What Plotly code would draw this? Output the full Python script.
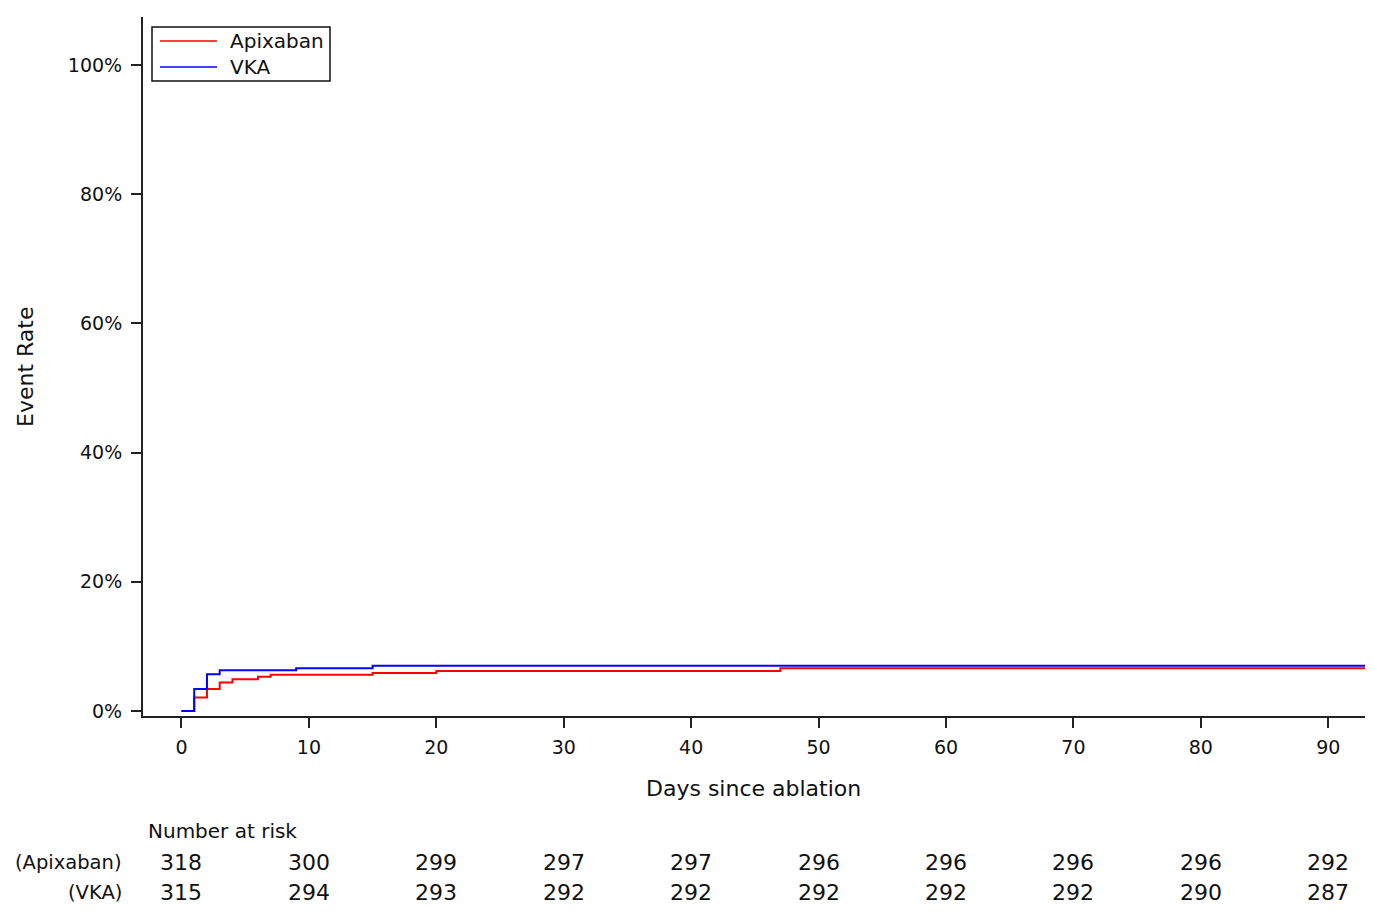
import plotly.graph_objects as go

# Kaplan-Meier style cumulative event rate (%)
apix_days = [0, 1, 2, 3, 4, 6, 7, 15, 20, 47, 93]
apix_rate = [0, 2.1, 3.4, 4.4, 4.9, 5.3, 5.6, 5.9, 6.2, 6.6, 6.6]
vka_days = [0, 1, 2, 3, 9, 15, 93]
vka_rate = [0, 3.4, 5.7, 6.3, 6.6, 7.0, 7.0]

risk_days = [0, 10, 20, 30, 40, 50, 60, 70, 80, 90]
risk_apix = [318, 300, 299, 297, 297, 296, 296, 296, 296, 292]
risk_vka = [315, 294, 293, 292, 292, 292, 292, 292, 290, 287]

y_ticks = [0, 20, 40, 60, 80, 100]
y_labels = ["0%", "20%", "40%", "60%", "80%", "100%"]
x_ticks = [0, 10, 20, 30, 40, 50, 60, 70, 80, 90]

series_names = ["Apixaban", "VKA"]
series_colors = ["#ff0000", "#0000ff"]

FONT = "DejaVu Sans"
TXT = "#111111"

fig = go.Figure()
fig.add_trace(go.Scatter(x=apix_days, y=apix_rate, mode="lines", line_shape="hv",
                         name=series_names[0], line=dict(color=series_colors[0], width=2)))
fig.add_trace(go.Scatter(x=vka_days, y=vka_rate, mode="lines", line_shape="hv",
                         name=series_names[1], line=dict(color=series_colors[1], width=2)))

L, R, T, B = 143, 8, 17, 198
plot_w = 1373 - L - R
plot_h = 914 - T - B

def py(pix):
    return (914 - B - pix) / plot_h

def px(pix):
    return (pix - L) / plot_w

ann = [
    dict(text="Number at risk", x=px(146), xref="paper", y=py(831), yref="paper",
         xanchor="left", yanchor="middle", showarrow=False,
         font=dict(size=20, color=TXT, family=FONT)),
    dict(text="Days since ablation", x=px(753.5), xref="paper", y=py(788), yref="paper",
         xanchor="center", yanchor="middle", showarrow=False,
         font=dict(size=22, color=TXT, family=FONT)),
    dict(text="Event Rate", x=px(25), xref="paper", y=py(367), yref="paper",
         xanchor="center", yanchor="middle", showarrow=False, textangle=-90,
         font=dict(size=22, color=TXT, family=FONT)),
]
for lbl, ypix in [("(Apixaban)", 862), ("(VKA)", 892)]:
    ann.append(dict(text=lbl, x=px(124), xref="paper", y=py(ypix), yref="paper",
                    xanchor="right", yanchor="middle", showarrow=False,
                    font=dict(size=19.5, color=TXT, family=FONT)))
for d, a, v in zip(risk_days, risk_apix, risk_vka):
    ann.append(dict(text=str(a), x=d, xref="x", y=py(862), yref="paper",
                    xanchor="center", yanchor="middle", showarrow=False,
                    font=dict(size=22, color=TXT, family=FONT)))
    ann.append(dict(text=str(v), x=d, xref="x", y=py(892), yref="paper",
                    xanchor="center", yanchor="middle", showarrow=False,
                    font=dict(size=22, color=TXT, family=FONT)))

# hand-built legend box (to match the compact reference legend)
shapes = [dict(type="rect", xref="paper", yref="paper", x0=px(152), x1=px(330),
               y0=py(81), y1=py(27), line=dict(color="#111111", width=1.5),
               fillcolor="white", layer="above")]
for i, (nm, col) in enumerate(zip(series_names, series_colors)):
    yy = 41 + 26 * i
    shapes.append(dict(type="line", xref="paper", yref="paper", x0=px(160), x1=px(217),
                       y0=py(yy), y1=py(yy), line=dict(color=col, width=1.5), layer="above"))
    ann.append(dict(text=nm, x=px(228), xref="paper", y=py(yy), yref="paper",
                    xanchor="left", yanchor="middle", showarrow=False,
                    font=dict(size=20, color=TXT, family=FONT)))

fig.update_layout(
    width=1373, height=914,
    margin=dict(l=L, r=R, t=T, b=B, autoexpand=False),
    paper_bgcolor="white", plot_bgcolor="white",
    font=dict(family=FONT, size=19, color=TXT),
    showlegend=False,
    annotations=ann,
    shapes=shapes,
    xaxis=dict(range=[-3.02, 92.88], tickmode="array", tickvals=x_ticks,
               showgrid=False, zeroline=False, automargin=False,
               showline=True, linecolor="#222222", linewidth=2,
               ticks="outside", ticklen=10, tickwidth=2, tickcolor="#222222",
               ticklabelstandoff=3,
               tickfont=dict(size=19, family=FONT, color=TXT)),
    yaxis=dict(range=[-0.774, 107.43], tickmode="array", tickvals=y_ticks, ticktext=y_labels,
               showgrid=False, zeroline=False, automargin=False,
               showline=True, linecolor="#222222", linewidth=2,
               ticks="outside", ticklen=10, tickwidth=2, tickcolor="#222222",
               ticklabelstandoff=5,
               tickfont=dict(size=19, family=FONT, color=TXT)),
)

fig.write_html("out.html", config={"displayModeBar": False},
               post_script="document.body.style.margin='0';document.body.style.overflow='hidden';")
